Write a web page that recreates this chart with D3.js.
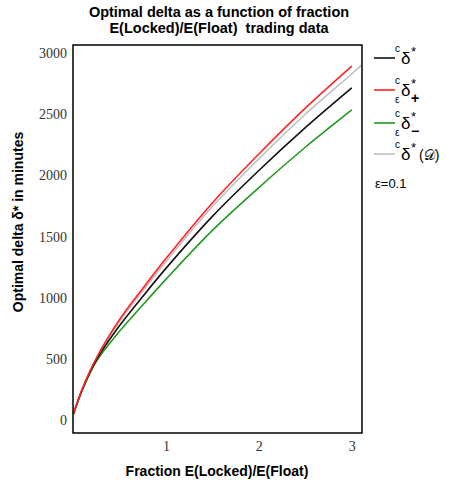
<!DOCTYPE html>
<html><head><meta charset="utf-8">
<script src="https://cdn.jsdelivr.net/npm/d3@7"></script>
<style>body{margin:0;background:#fff}</style>
</head><body>
<svg id="c" width="449" height="487"></svg>
<script>
const xs = [0.005, 0.1, 0.25, 0.5, 0.75, 1, 1.5, 2, 2.5, 3];
const xsGray = [0.005, 0.1, 0.25, 0.5, 0.75, 1, 1.5, 2, 2.5, 3, 3.11];
const black = [50, 250, 490, 770, 1010, 1240, 1665, 2040, 2390, 2715];
const red   = [50, 255, 505, 820, 1075, 1320, 1775, 2175, 2550, 2894];
const green = [50, 245, 478, 725, 940, 1150, 1550, 1900, 2230, 2535];
const gray  = [50, 253, 500, 805, 1055, 1295, 1745, 2135, 2500, 2829, 2905];
const yTicks = [0, 500, 1000, 1500, 2000, 2500, 3000];
const xTicks = [1, 2, 3];

const svg = d3.select("#c");
const L = 73, R = 362, T = 45, B = 433;
const x = d3.scaleLinear().domain([0, 3.11]).range([L, R]);
const y = d3.scaleLinear().domain([-106, 3066]).range([B, T]);

svg.append("defs").append("clipPath").attr("id","clip")
  .append("rect").attr("x",L).attr("y",T).attr("width",R-L).attr("height",B-T);

// title
const title = svg.append("text").attr("text-anchor","middle")
  .attr("font-family","Liberation Sans, Arial, sans-serif").attr("font-weight","bold")
  .attr("font-size",14.5).attr("fill","#000").style("white-space","pre");
title.append("tspan").attr("x",219).attr("y",17).text("Optimal delta as a function of fraction");
title.append("tspan").attr("x",219).attr("y",33).text("E(Locked)/E(Float)  trading data");

// axes
const ya = svg.append("g").attr("transform",`translate(${L},0)`)
  .call(d3.axisLeft(y).tickValues(yTicks).tickSize(0).tickPadding(6).tickFormat(d3.format("d")));
ya.select(".domain").remove();
ya.selectAll("text").attr("font-family","Liberation Serif, Times New Roman, serif")
  .attr("font-size",14).attr("fill","#333");

const xa = svg.append("g").attr("transform",`translate(0,${B})`)
  .call(d3.axisBottom(x).tickValues(xTicks).tickSize(0).tickPadding(8).tickFormat(d3.format("d")));
xa.select(".domain").remove();
xa.selectAll("text").attr("font-family","Liberation Serif, Times New Roman, serif")
  .attr("font-size",14).attr("fill","#333");

// axis labels
svg.append("text").attr("transform","translate(23,222) rotate(-90)")
  .attr("text-anchor","middle").attr("font-family","Liberation Sans, Arial, sans-serif")
  .attr("font-weight","bold").attr("font-size",14).attr("fill","#000")
  .text("Optimal delta δ* in minutes");
svg.append("text").attr("x",217).attr("y",476)
  .attr("text-anchor","middle").attr("font-family","Liberation Sans, Arial, sans-serif")
  .attr("font-weight","bold").attr("font-size",14).attr("fill","#000")
  .text("Fraction E(Locked)/E(Float)");

// curves
const series = [
  {xs: xsGray, ys: gray, color: "#c0c0c0"},
  {xs: xs, ys: green, color: "#1f9a1f"},
  {xs: xs, ys: black, color: "#111"},
  {xs: xs, ys: red, color: "#ff2424"},
];
const line = d3.line().x(d => x(d[0])).y(d => y(d[1])).curve(d3.curveCatmullRom.alpha(0.5));
const g = svg.append("g").attr("clip-path","url(#clip)");
series.forEach(s => {
  g.append("path").datum(s.xs.map((v,i)=>[v,s.ys[i]]))
    .attr("d", line).attr("fill","none").attr("stroke", s.color).attr("stroke-width",1.6);
});

// frame
svg.append("rect").attr("x",L).attr("y",T).attr("width",R-L).attr("height",B-T)
  .attr("fill","none").attr("stroke","#000").attr("stroke-width",1.5);

// legend
const lg = svg.append("g").attr("font-family","Liberation Sans, Arial, sans-serif").attr("fill","#000");
const items = [
  {y: 58, color: "#111", sub: "", subR: "", tail: ""},
  {y: 90, color: "#ff2424", sub: "ε", subR: "+", tail: ""},
  {y: 123, color: "#1f9a1f", sub: "ε", subR: "−", tail: ""},
  {y: 154, color: "#c0c0c0", sub: "", subR: "", tail: "(𝒟)"},
];
items.forEach(it => {
  lg.append("line").attr("x1",374).attr("x2",395).attr("y1",it.y).attr("y2",it.y)
    .attr("stroke",it.color).attr("stroke-width",1.6);
  lg.append("text").attr("x",395).attr("y",it.y-6).attr("font-size",10).text("c");
  lg.append("text").attr("x",401).attr("y",it.y+6).attr("font-size",17).text("δ");
  lg.append("text").attr("x",411).attr("y",it.y-2).attr("font-size",13).text("*");
  if (it.sub) lg.append("text").attr("x",395).attr("y",it.y+13).attr("font-size",10).text(it.sub);
  if (it.subR) lg.append("text").attr("x",411).attr("y",it.y+13).attr("font-size",14).attr("font-weight","bold").text(it.subR);
  if (it.tail) lg.append("text").attr("x",419).attr("y",it.y+6).attr("font-size",14).text(it.tail);
});
lg.append("text").attr("x",375).attr("y",188).attr("font-size",13).text("ε=0.1");
</script>
</body></html>
